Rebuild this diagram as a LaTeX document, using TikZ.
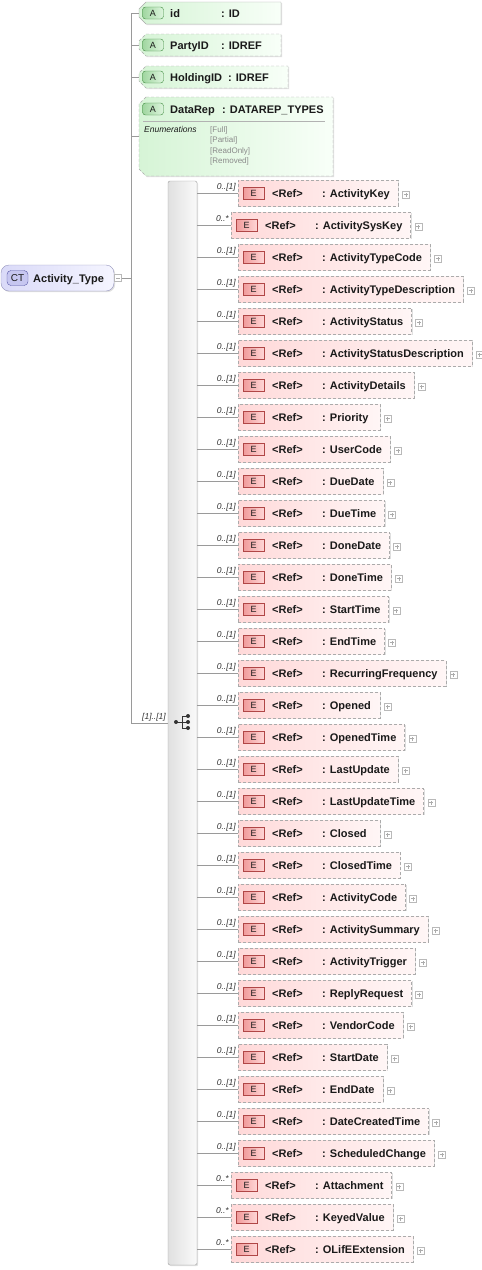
\documentclass[tikz,border=0pt]{standalone}
\usepackage{fontspec}
\setmainfont{Liberation Sans}
\usetikzlibrary{backgrounds,shadows,calc}
\definecolor{txt}{HTML}{1A1A1A}
\definecolor{connc}{HTML}{9A9A9A}
\definecolor{boxgray}{HTML}{ABABAB}
\definecolor{elL}{HTML}{FFD9D9}
\definecolor{elR}{HTML}{FFF6F6}
\definecolor{ebL}{HTML}{F09A9A}
\definecolor{ebR}{HTML}{FFD6D6}
\definecolor{ebB}{HTML}{B04646}
\definecolor{atL}{HTML}{D6F4D6}
\definecolor{atR}{HTML}{F8FFF8}
\definecolor{abL}{HTML}{A0D6A0}
\definecolor{abR}{HTML}{DDF5DD}
\definecolor{abB}{HTML}{3C8A3C}
\definecolor{ctL}{HTML}{DADAF8}
\definecolor{ctR}{HTML}{F5F5FF}
\definecolor{ctB}{HTML}{9494BC}
\definecolor{cbF}{HTML}{C6C6F0}
\definecolor{cbB}{HTML}{5656A6}
\definecolor{sqL}{HTML}{E0E0E0}
\definecolor{sqR}{HTML}{FAFAFA}
\definecolor{sqB}{HTML}{A0A0A0}
\definecolor{enumc}{HTML}{8A8A8A}
\begin{document}
\begin{tikzpicture}[x=1pt,y=-1pt,
  conn/.style={draw=connc, line width=0.6pt},
  shad/.style={drop shadow={shadow xshift=1.2pt, shadow yshift=-1.2pt, opacity=0.25}},
  eltext/.style={font=\bfseries\fontsize{11}{13}\selectfont, text=txt, inner sep=0pt},
  elbox/.style={rectangle, draw=boxgray, dash pattern=on 3pt off 2pt, left color=elL, right color=elR,
    minimum height=26, inner sep=0pt, outer sep=0pt, shad},
  ebadge/.style={rectangle, draw=ebB, left color=ebL, right color=ebR, minimum width=21, minimum height=12,
    inner sep=0pt, font=\fontsize{9}{10}\selectfont, text=txt},
  plusbox/.style={rectangle, draw=gray!55, fill=white, minimum width=7, minimum height=7, inner sep=0pt},
  plusline/.style={draw=gray!65, line width=0.5pt},
  mult/.style={font=\itshape\fontsize{8.5}{9}\selectfont, text=black!80, inner sep=0pt},
  attrarea/.style={rectangle, draw=none, inner sep=0pt, outer sep=0pt},
  attrshape/.style={draw=boxgray, left color=atL, right color=atR, shad},
  abadge/.style={rectangle, rounded corners=3pt, draw=abB, left color=abL, right color=abR,
    minimum width=21, minimum height=12, inner sep=0pt, font=\fontsize{9}{10}\selectfont, text=txt},
  enumtext/.style={font=\fontsize{8}{9}\selectfont, text=enumc, inner sep=0pt},
]
\useasboundingbox (0,0) rectangle (482,1270);

% ---------- complex type ----------
\node[rectangle, rounded corners=8pt, draw=ctB, left color=ctL, right color=ctR,
  minimum width=113, minimum height=26, inner sep=0pt, outer sep=0pt, shad] (ct) at (57.5,278) {};
\node[rectangle, rounded corners=4pt, draw=cbB, fill=cbF, minimum width=21, minimum height=15,
  inner sep=0pt, font=\fontsize{10}{11}\selectfont, text=txt] (ctb) at (17.5,278) {CT};
\node[eltext, anchor=base west] (ctt) at (33,282) {Activity\_Type};
\node[plusbox] (ctm) at (118,278) {};
\draw[plusline] ([xshift=-2pt]ctm.center) -- ([xshift=2pt]ctm.center);
\coordinate (tj) at (131,278);
\draw[conn] (ctm.east) -- (tj);

% ---------- attributes ----------
\node[attrarea, minimum width=142, minimum height=22] (a1) at (210,13) {};
\node[attrarea, minimum width=142, minimum height=22] (a2) at (210,45) {};
\node[attrarea, minimum width=149, minimum height=22] (a3) at (213.5,77) {};
\node[attrarea, minimum width=194, minimum height=79] (a4) at (236,136.5) {};
\draw[attrshape] ([xshift=7pt]a1.north west) -- (a1.north east) -- (a1.south east) -- ([xshift=7pt]a1.south west)
  -- ([yshift=7pt]a1.south west) -- ([yshift=-7pt]a1.north west) -- cycle;
\foreach \a in {a2,a3,a4}{
  \draw[attrshape, dash pattern=on 3pt off 2pt] ([xshift=7pt]\a.north west) -- (\a.north east) -- (\a.south east) -- ([xshift=7pt]\a.south west)
    -- ([yshift=7pt]\a.south west) -- ([yshift=-7pt]\a.north west) -- cycle;
}
\node[abadge] (ab1) at (153,13) {A};
\node[abadge] (ab2) at (153,45) {A};
\node[abadge] (ab3) at (153,77) {A};
\node[abadge] (ab4) at (153,109) {A};
\node[eltext, anchor=base west] (an1) at (170,17) {id};
\node[eltext, anchor=base west] (at1) at (221,17) {: ID};
\node[eltext, anchor=base west] (an2) at (170,49) {PartyID};
\node[eltext, anchor=base west] (at2) at (221,49) {: IDREF};
\node[eltext, anchor=base west] (an3) at (170,81) {HoldingID};
\node[eltext, anchor=base west] (at3) at (228,81) {: IDREF};
\node[eltext, anchor=base west] (an4) at (170,113) {DataRep};
\node[eltext, anchor=base west] (at4) at (222,113) {: DATAREP\_TYPES};
\draw[draw=gray!60, line width=0.6pt] (143,121) -- (325,121);
\node[font=\itshape\fontsize{8.5}{9}\selectfont, text=txt, inner sep=0pt, anchor=base west] (enl) at (144,132) {Enumerations};
\node[enumtext, anchor=base west] (ev1) at (210,132) {[Full]};
\node[enumtext, anchor=base west] (ev2) at (210,142.5) {[Partial]};
\node[enumtext, anchor=base west] (ev3) at (210,153) {[ReadOnly]};
\node[enumtext, anchor=base west] (ev4) at (210,163.5) {[Removed]};

% ---------- sequence ----------
\node[rectangle, rounded corners=2pt, draw=sqB, left color=sqL, right color=sqR,
  minimum width=29, minimum height=1084, inner sep=0pt, outer sep=0pt, shad] (seq) at (182.5,723) {};
\coordinate (si) at (182,722);
\draw[draw=black!80, line width=1pt] ($(si)+(-6,0)$) -- (si) ($(si)+(0,-6)$) -- ($(si)+(0,6)$)
  ($(si)+(0,-6)$) -- ($(si)+(6,-6)$) (si) -- ($(si)+(6,0)$) ($(si)+(0,6)$) -- ($(si)+(6,6)$);
\fill[black!80] ($(si)+(-6,0)$) circle (2pt) ($(si)+(6,-6)$) circle (2pt) ($(si)+(6,0)$) circle (2pt) ($(si)+(6,6)$) circle (2pt);

% trunk
\draw[conn] (tj |- a1.west) -- (tj |- seq.west);
\foreach \a in {a1,a2,a3,a4}{ \draw[conn] (tj |- \a.west) -- (\a.west); }
\draw[conn] (tj |- seq.west) -- (seq.west);
\node[mult, anchor=base east] (sqm) at (166,719) {[1]..[1]};

% ---------- elements ----------
\foreach \nm/\L [count=\i from 0] in {ActivityKey/238, ActivitySysKey/231, ActivityTypeCode/238,
  ActivityTypeDescription/238, ActivityStatus/238, ActivityStatusDescription/238, ActivityDetails/238,
  Priority/238, UserCode/238, DueDate/238, DueTime/238, DoneDate/238, DoneTime/238, StartTime/238,
  EndTime/238, RecurringFrequency/238, Opened/238, OpenedTime/238, LastUpdate/238, LastUpdateTime/238,
  Closed/238, ClosedTime/238, ActivityCode/238, ActivitySummary/238, ActivityTrigger/238,
  ReplyRequest/238, VendorCode/238, StartDate/238, EndDate/238, DateCreatedTime/238,
  ScheduledChange/238, Attachment/231, KeyedValue/231, OLifEExtension/231}
{
  \pgfmathsetmacro\cy{193+32*\i}
  \node[eltext, anchor=base west] (n\i) at (\L+84,\cy+4) {: \nm};
  \node[eltext, anchor=base west] (r\i) at (\L+34,\cy+4) {<Ref>};
  \begin{pgfonlayer}{background}
    \path let \p1=(n\i.east), \n1={max(\x1+8pt,(\L+142)*1pt)} in
      node[elbox, anchor=west, minimum width={\n1-\L}] (b\i) at (\L,\cy) {};
  \end{pgfonlayer}
  \node[ebadge] (e\i) at (\L+15.5,\cy) {E};
  \node[plusbox, anchor=west] (p\i) at ([xshift=4pt, yshift=-1.5pt]b\i.east) {};
  \draw[plusline] ([xshift=-2pt]p\i.center) -- ([xshift=2pt]p\i.center)
    ([yshift=-2pt]p\i.center) -- ([yshift=2pt]p\i.center);
  \draw[conn] (seq.east |- b\i.west) -- (b\i.west);
  \node[mult, anchor=base east] (m\i) at ([xshift=-2pt, yshift=4pt]b\i.west) {\ifnum\L=231 0..*\else 0..[1]\fi};
}
\end{tikzpicture}
\end{document}
